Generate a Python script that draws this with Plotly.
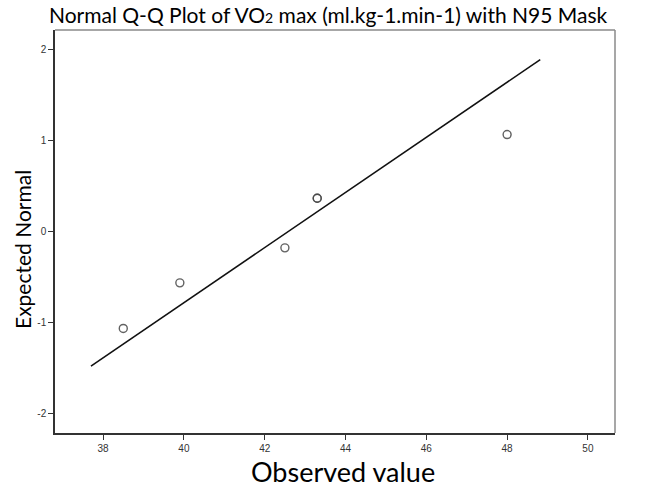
import plotly.graph_objects as go
import numpy as np

# Data
observed = [38.5, 39.9, 42.5, 43.3, 43.3, 48.0]
expected_normal = [-1.068, -0.566, -0.180, 0.366, 0.366, 1.068]
line_x_range = [37.70, 48.82]

x_ticks = [38, 40, 42, 44, 46, 48, 50]
y_ticks = [-2, -1, 0, 1, 2]
y_tick_labels = ["-2", "-1", "0", "1", "2"]

mean = float(np.mean(observed))
sd = float(np.std(observed, ddof=1))
line_y = [(v - mean) / sd for v in line_x_range]

fig = go.Figure()
fig.add_trace(go.Scatter(x=line_x_range, y=line_y, mode="lines",
                         line=dict(color="#111111", width=1.6), hoverinfo="skip",
                         showlegend=False))
fig.add_trace(go.Scatter(x=observed, y=expected_normal, mode="markers",
                         marker=dict(symbol="circle-open", size=8, color="rgba(70,70,70,0.85)",
                                     line=dict(width=1.4)),
                         showlegend=False))

tickfont = dict(family="Liberation Sans, Arial", size=10, color="#333333")
fig.update_xaxes(range=[36.81, 50.67], tickvals=x_ticks, ticks="outside", ticklen=5,
                 tickcolor="#333333", tickwidth=1.3, showline=True, linecolor="#333333",
                 linewidth=1.5, showgrid=False, zeroline=False, tickfont=tickfont)
fig.update_yaxes(range=[-2.22, 2.22], tickvals=y_ticks, ticktext=y_tick_labels,
                 ticks="outside", ticklen=5,
                 tickcolor="#333333", tickwidth=1.3, showline=True, linecolor="#333333",
                 linewidth=1.5, showgrid=False, zeroline=False, tickfont=tickfont)

fig.update_layout(
    width=647, height=488,
    margin=dict(l=55, r=32, t=30, b=55),
    paper_bgcolor="white", plot_bgcolor="white",
    shapes=[
        dict(type="line", xref="paper", yref="paper", x0=0, x1=1, y0=1, y1=1,
             line=dict(color="#8a8a8a", width=1.5)),
        dict(type="line", xref="paper", yref="paper", x0=1, x1=1, y0=0, y1=1,
             line=dict(color="#8a8a8a", width=1.5)),
    ],
    annotations=[
        dict(text="Normal Q-Q Plot of VO<span style='font-size:14px'>2</span> max (ml.kg-1.min-1) with N95 Mask",
             xref="paper", yref="paper", x=(328 - 55) / 560, y=1 + (30 - 14) / 403,
             xanchor="center", yanchor="middle", showarrow=False,
             font=dict(family="Lato", size=21, color="black")),
        dict(text="Observed value", xref="paper", yref="paper",
             x=(342.5 - 55) / 560, y=-(471 - 433) / 403,
             xanchor="center", yanchor="middle", showarrow=False,
             font=dict(family="Lato", size=27, color="black")),
        dict(text="Expected Normal", xref="paper", yref="paper",
             x=-(55 - 22) / 560, y=(433 - 250) / 403, textangle=-90,
             xanchor="center", yanchor="middle", showarrow=False,
             font=dict(family="Lato", size=21, color="black")),
    ],
)

fig.write_html("out.html")
